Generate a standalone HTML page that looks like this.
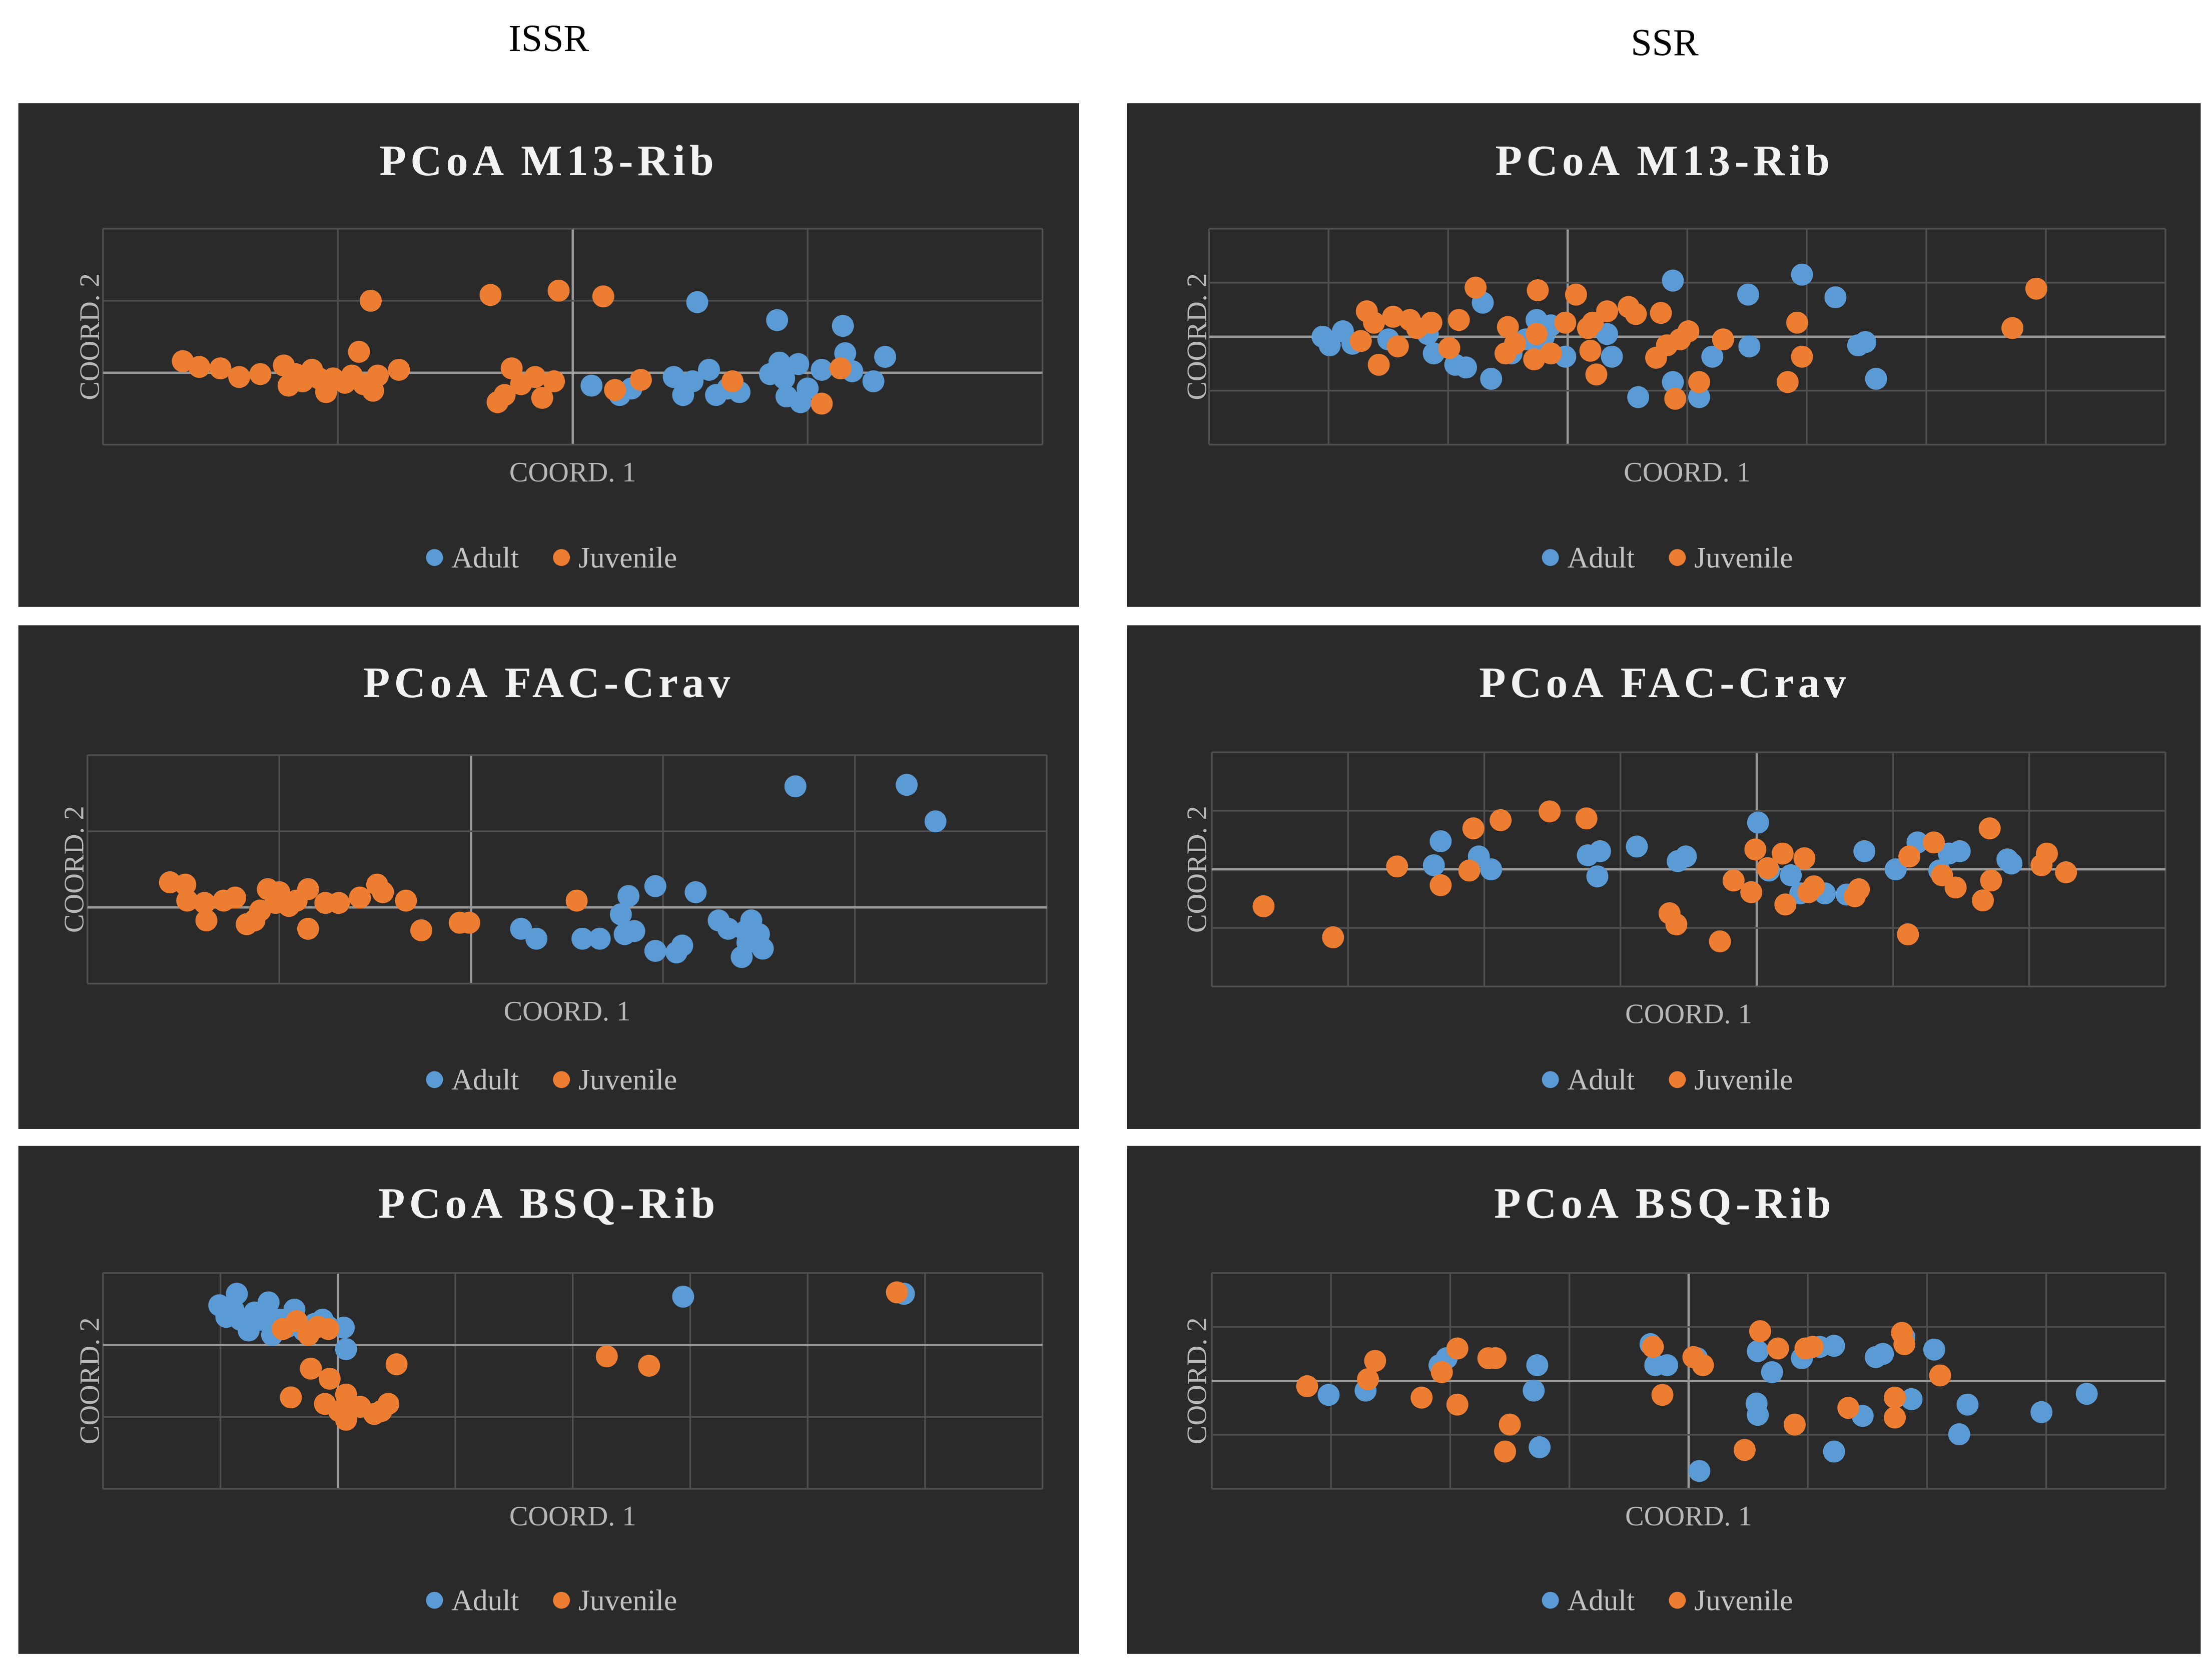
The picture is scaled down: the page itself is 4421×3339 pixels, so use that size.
<!DOCTYPE html>
<html><head><meta charset="utf-8">
<style>
html,body{margin:0;padding:0;background:#fff;}
svg{display:block;}
</style></head>
<body>
<svg id="fig" width="4421" height="3339" viewBox="0 0 1568 1184" xmlns="http://www.w3.org/2000/svg">
<rect x="0" y="0" width="1568" height="1184" fill="#ffffff"/>
<text x="389" y="36" text-anchor="middle" font-family="Liberation Serif, serif" font-size="27" fill="#000">ISSR</text>
<text x="1180" y="39" text-anchor="middle" font-family="Liberation Serif, serif" font-size="27" fill="#000">SSR</text>
</svg>
<script>
// ---- Data (coordinate units) ----
const p1AdultX=[0.08,0.20,0.25,0.43,0.47,0.53,0.51,0.58,0.61,0.66,0.71,0.84,0.87,0.88,0.91,0.96,0.97,1.00,1.06,1.15,1.16,1.19,1.28,1.33,0.90];
const p1AdultY=[-0.18,-0.31,-0.22,-0.06,-0.31,0.98,-0.12,0.04,-0.31,-0.22,-0.27,-0.02,0.73,0.14,-0.33,0.12,-0.41,-0.22,0.04,0.65,0.27,0.02,-0.12,0.22,-0.08];
const p1JuvX=[-1.66,-1.59,-1.50,-1.42,-1.33,-1.23,-1.21,-1.18,-1.15,-1.11,-1.08,-1.05,-1.02,-0.97,-0.94,-0.91,-0.89,-0.86,-0.85,-0.83,-0.74,-0.35,-0.26,-0.32,-0.29,-0.22,-0.16,-0.13,-0.08,-0.06,0.13,0.18,0.29,0.68,1.06,1.14];
const p1JuvY=[0.16,0.08,0.06,-0.06,-0.02,0.10,-0.18,-0.02,-0.12,0.04,-0.08,-0.27,-0.08,-0.14,-0.04,0.29,-0.16,1.00,-0.25,-0.04,0.04,1.08,0.06,-0.41,-0.31,-0.16,-0.06,-0.35,-0.12,1.14,1.06,-0.24,-0.10,-0.12,-0.43,0.06];

const p2AdultX=[-2.05,-1.99,-1.88,-1.80,-1.50,-1.17,-1.12,-0.94,-0.85,-0.71,-0.64,-0.47,-0.35,-0.26,-0.20,-0.14,-0.02,0.33,0.37,0.59,0.88,0.88,1.10,1.21,1.51,1.52,1.96,2.24,2.43,2.49,2.58,-0.24];
const p2AdultY=[0,-0.16,0.10,-0.13,-0.05,0.05,-0.31,-0.52,-0.57,0.63,-0.78,-0.31,-0.05,0.31,0,0.21,-0.37,0.05,-0.37,-1.12,1.04,-0.84,-1.12,-0.37,0.78,-0.18,1.15,0.73,-0.16,-0.10,-0.78,-0.26];
const p2JuvX=[-1.73,-1.68,-1.62,-1.58,-1.46,-1.42,-1.32,-1.26,-1.14,-0.99,-0.91,-0.77,-0.52,-0.50,-0.44,-0.28,-0.25,-0.26,-0.14,-0.02,0.07,0.17,0.19,0.24,0.33,0.51,0.57,0.74,0.78,0.83,0.90,0.94,1.01,1.10,1.30,1.84,1.92,1.96,3.72,3.92,0.21];
const p2JuvY=[-0.08,0.47,0.26,-0.52,0.37,-0.18,0.31,0.16,0.26,-0.21,0.31,0.91,-0.31,0.18,-0.13,-0.42,0.86,0.05,-0.31,0.26,0.78,0.16,-0.26,-0.70,0.47,0.55,0.42,-0.39,0.44,-0.16,-1.15,-0.05,0.10,-0.84,-0.05,-0.84,0.26,-0.37,0.16,0.89,0.26];

const p3AdultX=[0.26,0.34,0.58,0.67,0.78,0.80,0.82,0.85,0.96,0.96,1.07,1.10,1.17,1.29,1.34,1.41,1.43,1.46,1.50,1.52,1.69,2.27,2.42,1.44];
const p3AdultY=[-0.28,-0.41,-0.41,-0.41,-0.09,-0.35,0.15,-0.31,-0.57,0.28,-0.59,-0.50,0.20,-0.17,-0.28,-0.65,-0.31,-0.17,-0.35,-0.54,1.59,1.61,1.13,-0.46];
const p3JuvX=[-1.57,-1.49,-1.48,-1.39,-1.38,-1.29,-1.23,-1.17,-1.13,-1.10,-1.06,-1.02,-1.00,-0.95,-0.91,-0.85,-0.85,-0.76,-0.69,-0.58,-0.49,-0.46,-0.34,-0.26,-0.06,-0.01,0.55];
const p3JuvY=[0.33,0.30,0.09,0.06,-0.17,0.09,0.13,-0.22,-0.17,-0.04,0.24,0.06,0.20,0.02,0.09,0.24,-0.28,0.06,0.06,0.13,0.30,0.20,0.09,-0.30,-0.20,-0.20,0.09];

const p4AdultX=[-2.37,-2.32,-2.04,-1.95,-1.24,-1.17,-1.15,-0.88,-0.58,-0.52,0.01,0.09,0.25,0.32,0.50,0.66,0.79,1.02,1.18,1.34,1.41,1.49,1.84,1.87];
const p4AdultY=[0.07,0.48,0.22,0,0.24,-0.12,0.31,0.39,0.14,0.22,0.80,-0.02,-0.10,-0.41,-0.41,-0.43,0.31,0,0.46,-0.02,0.27,0.31,0.17,0.10];
const p4JuvX=[-3.62,-3.11,-2.64,-2.32,-2.11,-2.08,-1.88,-1.52,-1.25,-0.64,-0.59,-0.27,-0.17,-0.04,-0.01,0.08,0.19,0.21,0.35,0.38,0.42,0.72,0.75,1.11,1.12,1.30,1.36,1.46,1.66,1.71,1.72,2.09,2.13,2.27];
const p4JuvY=[-0.63,-1.16,0.05,-0.27,-0.02,0.70,0.84,0.99,0.87,-0.75,-0.94,-1.23,-0.19,-0.39,0.34,0.02,0.27,-0.60,0.19,-0.39,-0.29,-0.46,-0.34,-1.11,0.22,0.46,-0.10,-0.31,-0.53,0.70,-0.19,0.07,0.27,-0.05];

const p5AdultX=[-1.01,-0.95,-0.86,-0.83,-0.76,-0.71,-0.65,-0.59,-0.56,-0.49,-0.43,-0.37,-0.29,-0.20,-0.13,-0.08,0.05,0.07,2.94,4.82,-0.61,-0.89];
const p5AdultY=[0.55,0.39,0.71,0.35,0.20,0.45,0.35,0.59,0.14,0.35,0.25,0.49,0.20,0.29,0.35,0.25,0.24,-0.06,0.67,0.71,0.45,0.49];
const p5JuvX=[-0.47,-0.35,-0.25,-0.17,-0.08,-0.23,-0.07,-0.40,0.07,-0.11,0.11,0.01,0.07,0.19,0.31,0.37,0.43,0.50,2.29,2.65,4.76];
const p5JuvY=[0.22,0.33,0.14,0.25,0.22,-0.33,-0.47,-0.73,-0.69,-0.82,-0.88,-0.92,-1.04,-0.86,-0.96,-0.92,-0.82,-0.27,-0.16,-0.29,0.73];

const p6AdultX=[-3.02,-2.71,-2.09,-2.03,-1.30,-1.27,-1.25,-0.32,-0.28,-0.18,0.07,0.09,0.57,0.58,0.58,0.70,0.95,1.10,1.22,1.22,1.46,1.57,1.63,1.81,1.87,2.06,2.27,2.34,2.96,3.34];
const p6AdultY=[-0.26,-0.18,0.29,0.42,-0.18,0.29,-1.23,0.68,0.29,0.29,0.42,-1.67,-0.42,-0.63,0.55,0.16,0.42,0.63,0.65,-1.31,-0.65,0.44,0.50,0.81,-0.34,0.58,-0.99,-0.44,-0.58,-0.24];
const p6JuvX=[-3.20,-2.69,-2.63,-2.24,-2.07,-1.94,-1.94,-1.68,-1.62,-1.50,-1.54,-0.30,-0.22,0.04,0.12,0.47,0.60,0.75,0.89,0.98,1.04,1.34,1.73,1.73,1.81,1.79,2.11];
const p6JuvY=[-0.10,0.03,0.37,-0.31,0.16,0.60,-0.44,0.42,0.42,-0.81,-1.31,0.63,-0.26,0.44,0.29,-1.28,0.92,0.60,-0.81,0.60,0.63,-0.50,-0.68,-0.31,0.68,0.89,0.10];

const panelTitles=["PCoA M13-Rib","PCoA M13-Rib","PCoA FAC-Crav","PCoA FAC-Crav","PCoA BSQ-Rib","PCoA BSQ-Rib"];
const legendLabels=["Adult","Juvenile"];

// ---- Layout ----
const layout=[
 {bx:13,by:73,bw:752,bh:357,px0:73,px1:739,py0:162,py1:315,xmin:-2,xmax:2,ymin:-1,ymax:2,xstep:1,ystep:1,ax:58,cx:389,ad:p1AdultX,ay:p1AdultY,jd:p1JuvX,jy:p1JuvY},
 {bx:799,by:73,bw:761,bh:357,px0:857,px1:1535,py0:162,py1:315,xmin:-3,xmax:5,ymin:-2,ymax:2,xstep:1,ystep:1,ax:843,cx:1180,ad:p2AdultX,ay:p2AdultY,jd:p2JuvX,jy:p2JuvY},
 {bx:13,by:443,bw:752,bh:357,px0:62,px1:742,py0:535,py1:697,xmin:-2,xmax:3,ymin:-1,ymax:2,xstep:1,ystep:1,ax:47,cx:389,ad:p3AdultX,ay:p3AdultY,jd:p3JuvX,jy:p3JuvY},
 {bx:799,by:443,bw:761,bh:357,px0:859,px1:1535,py0:533,py1:699,xmin:-4,xmax:3,ymin:-2,ymax:2,xstep:1,ystep:1,ax:843,cx:1180,ad:p4AdultX,ay:p4AdultY,jd:p4JuvX,jy:p4JuvY},
 {bx:13,by:812,bw:752,bh:360,px0:73,px1:739,py0:902,py1:1055,xmin:-2,xmax:6,ymin:-2,ymax:1,xstep:1,ystep:1,ax:58,cx:389,ad:p5AdultX,ay:p5AdultY,jd:p5JuvX,jy:p5JuvY},
 {bx:799,by:812,bw:761,bh:360,px0:859,px1:1535,py0:902,py1:1055,xmin:-4,xmax:4,ymin:-2,ymax:2,xstep:1,ystep:1,ax:843,cx:1180,ad:p6AdultX,ay:p6AdultY,jd:p6JuvX,jy:p6JuvY}
];
const NS="http://www.w3.org/2000/svg";
const svg=document.getElementById('fig');
function mk(tag,attrs,parent){const e=document.createElementNS(NS,tag);for(const k in attrs)e.setAttribute(k,attrs[k]);(parent||svg).appendChild(e);return e;}
const BLUE="#5b9bd5",ORANGE="#ed7d31";
layout.forEach((L,i)=>{
  const g=mk('g',{});
  
  
  const bg=mk('rect',{x:L.bx,y:L.by,width:L.bw,height:L.bh,fill:"#2a2a2a"},g);
  
  
  const sx=v=>L.px0+(v-L.xmin)/(L.xmax-L.xmin)*(L.px1-L.px0);
  const sy=v=>L.py1-(v-L.ymin)/(L.ymax-L.ymin)*(L.py1-L.py0);
  const t=mk('text',{x:L.cx,y:L.by+51,'text-anchor':'middle','font-family':'Liberation Serif, serif','font-size':31,'font-weight':'bold','letter-spacing':3,fill:'#f2f2f2'},g);
  t.textContent=panelTitles[i];
  
  
  for(let v=L.xmin;v<=L.xmax+1e-9;v+=L.xstep){
    const ln=mk('line',{x1:sx(v),x2:sx(v),y1:L.py0,y2:L.py1,stroke:v===0?'#9a9a9a':'#4f4f4f','stroke-width':v===0?1.6:1.2},g);
    
    
  }
  for(let v=L.ymin;v<=L.ymax+1e-9;v+=L.ystep){
    const ln=mk('line',{y1:sy(v),y2:sy(v),x1:L.px0,x2:L.px1,stroke:v===0?'#9a9a9a':'#4f4f4f','stroke-width':v===0?1.6:1.2},g);
    
    
  }
  const xt=mk('text',{x:(L.px0+L.px1)/2,y:L.py1+26,'text-anchor':'middle','font-family':'Liberation Serif, serif','font-size':20,fill:'#b8b8b8'},g);
  xt.textContent="COORD. 1";
  
  
  const ym=(L.py0+L.py1)/2;
  const yt=mk('text',{x:L.ax+6,y:ym+6,'text-anchor':'middle','font-family':'Liberation Serif, serif','font-size':20,fill:'#b8b8b8',transform:'rotate(-90 '+(L.ax+6)+' '+ym+')'},g);
  yt.textContent="COORD. 2";
  
  
  const series=[[L.ad,L.ay,BLUE,'adult-point'],[L.jd,L.jy,ORANGE,'juvenile-point']];
  series.forEach(s=>{
    s[0].forEach((xv,k)=>{
      const c=mk('circle',{cx:sx(xv),cy:sy(s[1][k]),r:7.8,fill:s[2]},g);
      
      
    });
  });
  const ly=L.by+322;
  const lx=L.cx-81;
  const d1=mk('circle',{cx:lx,cy:ly,r:6,fill:BLUE},g);
  
  
  const l1=mk('text',{x:lx+12,y:ly+7,'font-family':'Liberation Serif, serif','font-size':21,fill:'#c4c4c4'},g);
  l1.textContent=legendLabels[0];
  
  
  const d2=mk('circle',{cx:lx+90,cy:ly,r:6,fill:ORANGE},g);
  
  
  const l2=mk('text',{x:lx+102,y:ly+7,'font-family':'Liberation Serif, serif','font-size':21,fill:'#c4c4c4'},g);
  l2.textContent=legendLabels[1];
  
  
});
</script>
</body></html>
